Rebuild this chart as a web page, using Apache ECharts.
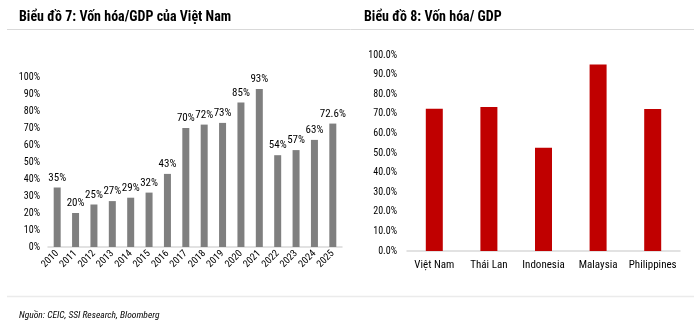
<!DOCTYPE html>
<html>
<head>
<meta charset="utf-8">
<script src="https://cdn.jsdelivr.net/npm/echarts@6/dist/echarts.min.js"></script>
<style>
html,body{margin:0;padding:0;background:#fff;}
#c{width:700px;height:321px;}
</style>
</head>
<body>
<div id="c"></div>
<script>
var years = ['2010','2011','2012','2013','2014','2015','2016','2017','2018','2019','2020','2021','2022','2023','2024','2025'];
var vnValues = [35,20,25,27,29,32,43,70,72,73,85,93,54,57,63,72.6];
var vnLabels = ['35%','20%','25%','27%','29%','32%','43%','70%','72%','73%','85%','93%','54%','57%','63%','72.6%'];
var countries = ['Việt Nam','Thái Lan','Indonesia','Malaysia','Philippines'];
var countryValues = [72.6,73.5,52.7,95.2,72.5];
var title1 = 'Biểu đồ 7: Vốn hóa/GDP của Việt Nam';
var title2 = 'Biểu đồ 8: Vốn hóa/ GDP';
var source = 'Nguồn: CEIC, SSI Research, Bloomberg';

var FONT = '"Liberation Sans Narrow", "Arial Narrow", "Roboto Condensed", "Liberation Sans", sans-serif';
var chart = echarts.init(document.getElementById('c'), null, {renderer:'canvas'});
chart.setOption({
  animation:false,
  textStyle:{fontFamily:FONT},
  title:[
    {text:title1, left:14, top:5, textStyle:{fontFamily:FONT, fontSize:14, fontWeight:'bold', color:'#000'}},
    {text:title2, left:359, top:5, textStyle:{fontFamily:FONT, fontSize:14, fontWeight:'bold', color:'#000'}},
    {text:source, left:14, top:306, textStyle:{fontFamily:FONT, fontSize:9.5, fontStyle:'italic', fontWeight:'normal', color:'#000'}}
  ],
  graphic:[
    {type:'line', shape:{x1:7,y1:29.5,x2:694,y2:29.5}, style:{stroke:'#d9d9d9', lineWidth:1}},
    {type:'line', shape:{x1:7,y1:296.5,x2:694,y2:296.5}, style:{stroke:'#ebebeb', lineWidth:1.5}}
  ],
  grid:[
    {left:48, right:358, top:77, bottom:74},
    {left:407, right:20, top:55, bottom:70}
  ],
  xAxis:[
    {type:'category', gridIndex:0, data:years,
     axisLine:{lineStyle:{color:'#d9d9d9', width:1.5}}, axisTick:{show:false},
     axisLabel:{rotate:45, fontSize:10, color:'#000', margin:5, fontFamily:FONT, interval:0}},
    {type:'category', gridIndex:1, data:countries,
     axisLine:{lineStyle:{color:'#d9d9d9', width:1.5}}, axisTick:{show:false},
     axisLabel:{fontSize:11, color:'#000', margin:9, fontFamily:FONT, interval:0}}
  ],
  yAxis:[
    {type:'value', gridIndex:0, min:0, max:100, interval:10,
     axisLine:{show:false}, axisTick:{show:false}, splitLine:{show:false},
     axisLabel:{formatter:'{value}%', fontSize:10, color:'#000', margin:8, fontFamily:FONT}},
    {type:'value', gridIndex:1, min:0, max:100, interval:10,
     axisLine:{show:false}, axisTick:{show:false}, splitLine:{show:false},
     axisLabel:{formatter:function(v){return v.toFixed(1)+'%';}, fontSize:10, color:'#000', margin:10, fontFamily:FONT}}
  ],
  series:[
    {type:'bar', xAxisIndex:0, yAxisIndex:0, data:vnValues, barWidth:7,
     itemStyle:{color:'#7f7f7f'},
     label:{show:true, position:'top', distance:4, fontSize:11, color:'#000', fontFamily:FONT,
       formatter:function(p){return vnLabels[p.dataIndex];}}},
    {type:'bar', xAxisIndex:1, yAxisIndex:1, data:countryValues, barWidth:17,
     itemStyle:{color:'#c00000'}}
  ]
});
</script>
</body>
</html>
